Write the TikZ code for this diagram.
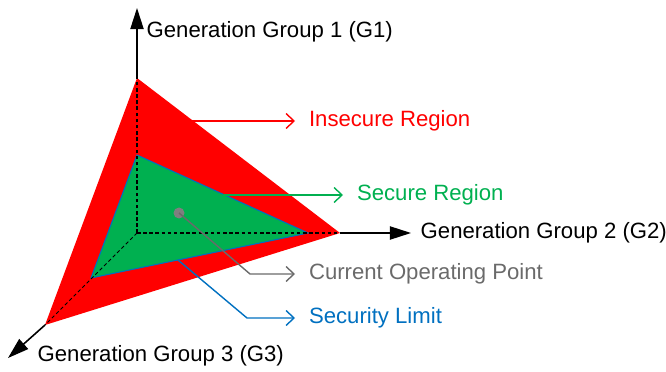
\documentclass[tikz,border=0pt]{standalone}
\usepackage{fontspec}
\setmainfont{Liberation Sans}
\usetikzlibrary{arrows.meta}

\definecolor{insecred}{HTML}{FF0000}
\definecolor{securegreen}{HTML}{00B050}
\definecolor{limitblue}{HTML}{0070C0}
\definecolor{opgray}{HTML}{6A6A6A}
\definecolor{dotgray}{HTML}{7F7F7F}

\begin{document}
\begin{tikzpicture}[line width=0.8pt,
  every node/.style={font=\fontsize{12.6}{15}\selectfont},
  axis/.style={-{Triangle[length=12pt,width=7.5pt]}, line width=0.9pt},
  hidden/.style={dash pattern=on 2pt off 1.5pt, line width=0.6pt},
  pointer/.style={-{Straight Barb[length=4.5pt,width=8.5pt]}, line width=0.8pt},
  axlbl/.style={anchor=west, inner sep=0pt},
  lbl/.style={anchor=west, inner sep=0pt, outer sep=8pt}]

\useasboundingbox (0,0) rectangle (13.32,7.42);

% corners
\coordinate (O) at (2.74,2.76);
\coordinate (r1) at (2.74,5.86);
\coordinate (r2) at (6.80,2.76);
\coordinate (r3) at (0.90,0.92);
\coordinate (s1) at (2.74,4.32);
\coordinate (s2) at (6.16,2.76);
\coordinate (s3) at (1.82,1.86);
\coordinate (t1) at (2.74,7.26);
\coordinate (t2) at (8.22,2.76);
\coordinate (t3) at (0.16,0.26);

% regions
\fill[insecred] (r1) -- (r2) -- (r3) -- cycle;
\filldraw[fill=securegreen, draw=limitblue, line width=0.6pt] (s1) -- (s2) -- (s3) -- cycle;

% hidden axes
\draw[hidden] (O) -- (r1);
\draw[hidden] (O) -- (r2);
\draw[hidden] (O) -- (r3);

% axes
\draw[axis] (r1) -- (t1);
\draw[axis] (r2) -- (t2);
\draw[axis] (r3) -- (t3);

% operating point
\node[circle, fill=dotgray, inner sep=0pt, minimum size=0.22cm] (op) at (3.58,3.16) {};

% lables
\node[axlbl] (g1) at (2.92,6.78) {Generation Group 1 (G1)};
\node[axlbl] (g2) at (8.40,2.76) {Generation Group 2 (G2)};
\node[axlbl] (g3) at (0.74,0.30) {Generation Group 3 (G3)};

\node[lbl, text=insecred] (insec) at (5.90,5.00) {Insecure Region};
\node[lbl, text=securegreen] (sec) at (6.86,3.52) {Secure Region};
\node[lbl, text=opgray] (cop) at (5.90,1.94) {Current Operating Point};
\node[lbl, text=limitblue] (lim) at (5.90,1.06) {Security Limit};

% pointers
\coordinate (a1) at (3.80,5.00);
\coordinate (a2) at (4.46,3.52);
\coordinate (a3) at (3.56,2.22);
\coordinate (e1) at (5.00,1.94);
\coordinate (e2) at (4.94,1.06);

\draw[pointer, insecred] (a1) -- (insec);
\draw[pointer, securegreen] (a2) -- (sec);
\draw[pointer, opgray] (op.center) -- (e1) -- (cop);
\draw[pointer, limitblue] (a3) -- (e2) -- (lim);

\end{tikzpicture}
\end{document}
